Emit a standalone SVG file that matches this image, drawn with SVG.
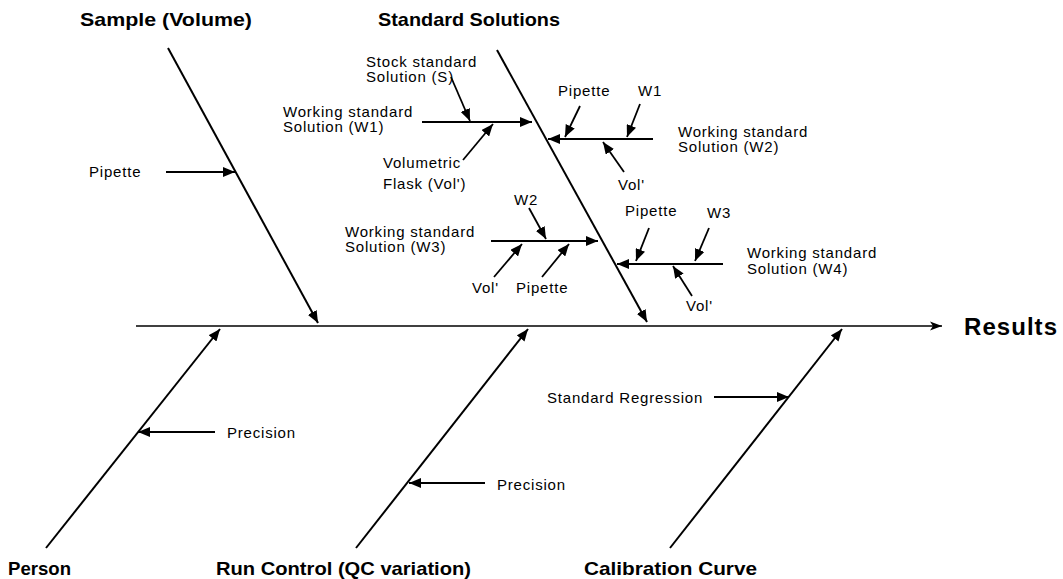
<svg xmlns="http://www.w3.org/2000/svg" width="1063" height="579" viewBox="0 0 1063 579">
<style>
  .b { font-family: "Liberation Sans", Arial, sans-serif; font-weight: bold; font-size: 19px; fill: #000; }
  .t { font-family: "Liberation Sans", Arial, sans-serif; font-size: 15px; letter-spacing: 0.8px; fill: #000; }
  .bone { stroke: #000; stroke-width: 2; fill: none; marker-end: url(#ah); }
  .arr { stroke: #000; stroke-width: 1.8; fill: none; marker-end: url(#ah); }
  .spine { stroke: #000; stroke-width: 1.5; fill: none; marker-end: url(#ahs); }
</style>
<defs>
  <marker id="ah" viewBox="0 0 12 10" refX="12" refY="5" markerWidth="12" markerHeight="10" markerUnits="userSpaceOnUse" orient="auto">
    <path d="M0,0 L12,5 L0,10 z" fill="#000"/>
  </marker>
  <marker id="ahs" viewBox="0 0 12 10" refX="12" refY="5" markerWidth="12" markerHeight="10" markerUnits="userSpaceOnUse" orient="auto">
    <path d="M0,0.5 L12,5 L0,9.5 L3,5 z" fill="#000"/>
  </marker>
</defs>
<rect width="1063" height="579" fill="#fff"/>

<g id="connectors">
  <path class="spine" d="M136,326 H942"/>
  <!-- main bones -->
  <path class="bone" d="M168,48 L318,323"/>
  <path class="bone" d="M497,50 L647,322"/>
  <path class="bone" d="M46,548 L220,329"/>
  <path class="bone" d="M356,548 L528,329"/>
  <path class="bone" d="M670,548 L842,329"/>
  <!-- sample -->
  <path class="arr" d="M166,172 L235,172"/>
  <!-- bottom causes -->
  <path class="arr" d="M215,432 L138,432"/>
  <path class="arr" d="M485,483 L409,483"/>
  <path class="arr" d="M714,397 L789,397"/>
  <!-- W1 branch -->
  <path class="arr" d="M422,122 L532,122"/>
  <path class="arr" d="M451,77 L470,121"/>
  <path class="arr" d="M463,160 L493,124"/>
  <!-- W2 branch -->
  <path class="arr" d="M653,139 L548,139"/>
  <path class="arr" d="M580,106 L565,137"/>
  <path class="arr" d="M640,104 L627,137"/>
  <path class="arr" d="M624,172 L603,142"/>
  <!-- W3 branch -->
  <path class="arr" d="M491,241 L598,241"/>
  <path class="arr" d="M529,208 L546,239"/>
  <path class="arr" d="M494,277 L522,244"/>
  <path class="arr" d="M542,277 L569,244"/>
  <!-- W4 branch -->
  <path class="arr" d="M723,264 L617,264"/>
  <path class="arr" d="M649,228 L636,261"/>
  <path class="arr" d="M709,228 L695,261"/>
  <path class="arr" d="M692,296 L673,266"/>
</g>

<g id="sample-volume"><text class="b" x="80" y="26" textLength="172" lengthAdjust="spacingAndGlyphs">Sample (Volume)</text></g>
<g id="standard-solutions"><text class="b" x="378" y="26" textLength="182" lengthAdjust="spacingAndGlyphs">Standard Solutions</text></g>
<g id="results"><text class="b" x="964" y="335" style="font-size:24px" textLength="93" lengthAdjust="spacing">Results</text></g>
<g id="person"><text class="b" x="8" y="575" textLength="63" lengthAdjust="spacingAndGlyphs">Person</text></g>
<g id="run-control"><text class="b" x="216" y="575" textLength="255" lengthAdjust="spacingAndGlyphs">Run Control (QC variation)</text></g>
<g id="calibration-curve"><text class="b" x="584" y="575" textLength="173" lengthAdjust="spacingAndGlyphs">Calibration Curve</text></g>

<g id="pipette-sample"><text class="t" x="89" y="177">Pipette</text></g>
<g id="stock"><text class="t" x="366" y="67">Stock standard</text><text class="t" x="366" y="82">Solution (S)</text></g>
<g id="w1-label"><text class="t" x="283" y="117">Working standard</text><text class="t" x="283" y="132">Solution (W1)</text></g>
<g id="vol-flask"><text class="t" x="383" y="168">Volumetric</text><text class="t" x="383" y="189">Flask (Vol')</text></g>
<g id="pipette-w2"><text class="t" x="558" y="96">Pipette</text></g>
<g id="w1-src"><text class="t" x="638" y="96">W1</text></g>
<g id="vol-w2"><text class="t" x="618" y="190">Vol'</text></g>
<g id="w2-label"><text class="t" x="678" y="137">Working standard</text><text class="t" x="678" y="152">Solution (W2)</text></g>
<g id="w2-src"><text class="t" x="514" y="205">W2</text></g>
<g id="w3-label"><text class="t" x="345" y="237">Working standard</text><text class="t" x="345" y="252">Solution (W3)</text></g>
<g id="vol-w3"><text class="t" x="472" y="293">Vol'</text></g>
<g id="pipette-w3"><text class="t" x="516" y="293">Pipette</text></g>
<g id="pipette-w4"><text class="t" x="625" y="216">Pipette</text></g>
<g id="w3-src"><text class="t" x="707" y="218">W3</text></g>
<g id="w4-label"><text class="t" x="747" y="258">Working standard</text><text class="t" x="747" y="274">Solution (W4)</text></g>
<g id="vol-w4"><text class="t" x="686" y="311">Vol'</text></g>
<g id="precision-person"><text class="t" x="227" y="438">Precision</text></g>
<g id="precision-run"><text class="t" x="497" y="490">Precision</text></g>
<g id="std-regression"><text class="t" x="547" y="403">Standard Regression</text></g>
</svg>
